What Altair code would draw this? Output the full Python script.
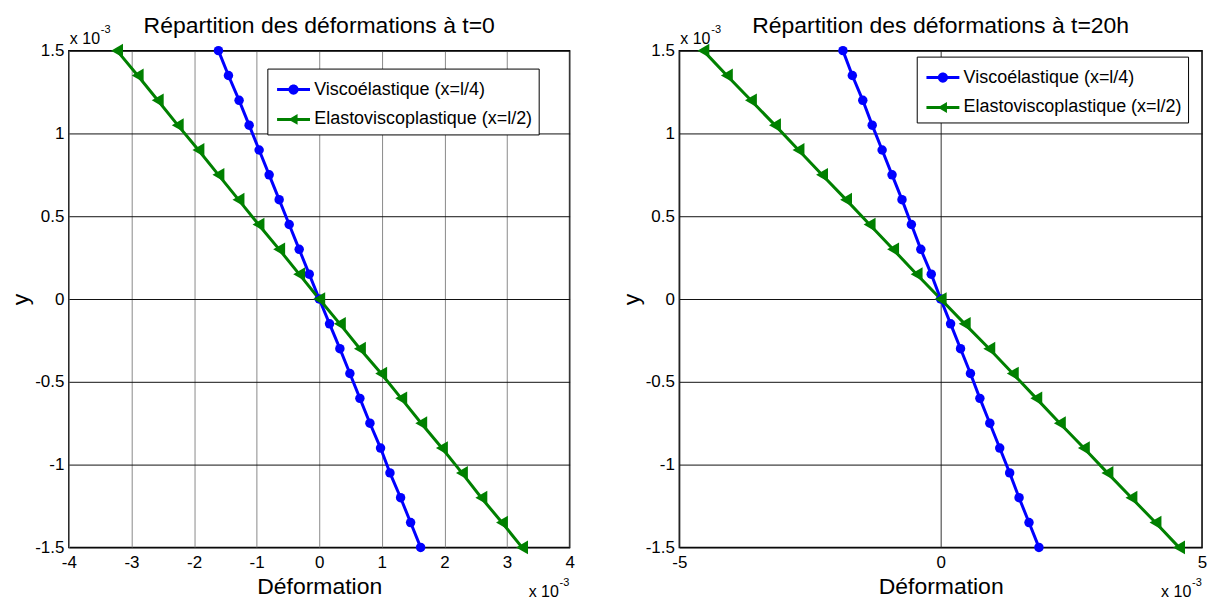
import altair as alt
import pandas as pd

FONT = "Liberation Sans, Arial, sans-serif"

SERIES = ["Viscoélastique (x=l/4)", "Elastoviscoplastique (x=l/2)"]
COLORS = ["#0000ff", "#008000"]
TITLES = ["Répartition des déformations à t=0", "Répartition des déformations à t=20h"]

Y_VALUES = [1.5, 1.35, 1.2, 1.05, 0.9, 0.75, 0.6, 0.45, 0.3, 0.15, 0.0,
            -0.15, -0.3, -0.45, -0.6, -0.75, -0.9, -1.05, -1.2, -1.35, -1.5]

VISCO_T0 = [-1.61, -1.45, -1.28, -1.12, -0.96, -0.80, -0.64, -0.48, -0.32, -0.16, 0.0,
            0.165, 0.33, 0.49, 0.65, 0.81, 0.98, 1.13, 1.30, 1.46, 1.62]
ELASTO_T0 = [-3.23, -2.90, -2.58, -2.26, -1.93, -1.61, -1.29, -0.97, -0.64, -0.32, 0.0,
             0.33, 0.65, 0.99, 1.31, 1.63, 1.96, 2.28, 2.59, 2.92, 3.24]
VISCO_T20 = [-1.87, -1.69, -1.49, -1.31, -1.12, -0.93, -0.74, -0.56, -0.38, -0.18, 0.0,
             0.19, 0.38, 0.57, 0.75, 0.94, 1.13, 1.32, 1.50, 1.69, 1.88]
ELASTO_T20 = [-4.54, -4.09, -3.63, -3.17, -2.72, -2.27, -1.81, -1.36, -0.91, -0.46, 0.0,
              0.46, 0.93, 1.38, 1.83, 2.28, 2.74, 3.19, 3.65, 4.11, 4.56]

X_TICKS_T0 = [-4, -3, -2, -1, 0, 1, 2, 3, 4]
X_TICKS_T20 = [-5, 0, 5]
Y_TICKS = [-1.5, -1, -0.5, 0, 0.5, 1, 1.5]

SCALE_BASE = ["x 10"]
SCALE_EXP = ["-3"]

X_TITLE = "Déformation"
Y_TITLE = "y"

# legend symbols: line segment + marker (custom paths, marker at the line's centre)
LEGEND_PATHS = [
    "M-0.75,-0.1H1.45V0.1H-0.75Z M0.01,0A0.34,0.34,0,1,1,0.69,0A0.34,0.34,0,1,1,0.01,0Z",
    "M-0.75,-0.1H1.45V0.1H-0.75Z M0.0,0L0.62,-0.36L0.62,0.36Z",
]
LEGEND_SYMBOL = 900

H = 498


def panel(title, visco, elasto, x_ticks, width, grid_color_x, legend_x, legend_y):
    rows = []
    for name, vals in zip(SERIES, [visco, elasto]):
        for i, (xv, yv) in enumerate(zip(vals, Y_VALUES)):
            rows.append({"deformation": xv, "y": yv, "serie": name, "idx": i})
    df = pd.DataFrame(rows)
    base = alt.Chart(df)
    x = alt.X("deformation:Q",
              scale=alt.Scale(domain=[x_ticks[0], x_ticks[-1]], nice=False, zero=False),
              axis=alt.Axis(values=x_ticks, title=X_TITLE, labelExpr="datum.value + ''",
                            gridColor=grid_color_x, labelPadding=7, titlePadding=5,
                            labelFlush=False))
    y = alt.Y("y:Q",
              scale=alt.Scale(domain=[-1.5, 1.5], nice=False, zero=False),
              axis=alt.Axis(values=Y_TICKS, title=Y_TITLE, labelExpr="datum.value + ''",
                            gridColor="#111111", labelPadding=5, titlePadding=2,
                            labelFlush=False))
    color_nl = alt.Color("serie:N", scale=alt.Scale(domain=SERIES, range=COLORS), legend=None)
    lines = base.mark_line(strokeWidth=3).encode(x=x, y=y, color=color_nl, order="idx:Q")
    points = base.mark_point(filled=True, opacity=1).encode(
        x=x, y=y, color=color_nl,
        shape=alt.Shape("serie:N", scale=alt.Scale(domain=SERIES, range=["circle", "triangle-left"]),
                        legend=None),
        size=alt.Size("serie:N", scale=alt.Scale(domain=SERIES, range=[90, 190]), legend=None))
    leg = alt.Legend(title=None, orient="none", legendX=legend_x, legendY=legend_y,
                     strokeColor="black", fillColor="white", padding=6,
                     labelFont=FONT, labelFontSize=18, labelLimit=500, labelOffset=11,
                     symbolSize=LEGEND_SYMBOL, symbolStrokeWidth=0, rowPadding=6, symbolOpacity=1,
                     labelColor="black")
    legend_layer = base.mark_point(filled=True, opacity=1, size=LEGEND_SYMBOL).encode(
        x=x, y=y,
        color=alt.Color("serie:N", scale=alt.Scale(domain=SERIES, range=COLORS), legend=leg),
        shape=alt.Shape("serie:N", scale=alt.Scale(domain=SERIES, range=LEGEND_PATHS), legend=leg),
    ).transform_filter("false")

    tb = pd.DataFrame({"t": SCALE_BASE})
    te = pd.DataFrame({"t": SCALE_EXP})
    top_base = alt.Chart(tb).mark_text(align="left", baseline="alphabetic", fontSize=16, font=FONT).encode(
        x=alt.value(1), y=alt.value(-7), text="t:N")
    top_exp = alt.Chart(te).mark_text(align="left", baseline="alphabetic", fontSize=11, font=FONT).encode(
        x=alt.value(32), y=alt.value(-18), text="t:N")
    bot_base = alt.Chart(tb).mark_text(align="left", baseline="alphabetic", fontSize=16, font=FONT).encode(
        x=alt.value(width - 41), y=alt.value(H + 50), text="t:N")
    bot_exp = alt.Chart(te).mark_text(align="left", baseline="alphabetic", fontSize=11, font=FONT).encode(
        x=alt.value(width - 10), y=alt.value(H + 39), text="t:N")

    return alt.layer(lines, points, legend_layer, top_base, top_exp, bot_base, bot_exp).resolve_scale(
        shape="independent", color="independent"
    ).properties(
        width=width, height=H,
        title=alt.Title(title, fontSize=23, font=FONT, fontWeight="normal", color="black", offset=-14),
    )


left = panel(TITLES[0], VISCO_T0, ELASTO_T0, X_TICKS_T0, 502, "#8a8a8a", 199, 18)
right = panel(TITLES[1], VISCO_T20, ELASTO_T20, X_TICKS_T20, 524, "#333333", 238, 6)

chart = alt.hconcat(left, right, spacing=43).resolve_scale(
    x="independent", y="independent", color="independent", shape="independent", size="independent"
).resolve_legend(color="independent", shape="independent").configure_view(
    stroke="black", strokeWidth=1.5
).configure_axis(
    labelFont=FONT, labelFontSize=17, labelColor="black",
    titleFont=FONT, titleFontSize=23, titleFontWeight="normal", titleColor="black",
    domain=False, ticks=False, grid=True, gridOpacity=1, gridWidth=1,
).configure_title(anchor="middle").properties(
    padding={"left": 0, "top": 5, "right": 0, "bottom": 0}
)

chart.save("out.html", embed_options={"renderer": "svg", "actions": False})
